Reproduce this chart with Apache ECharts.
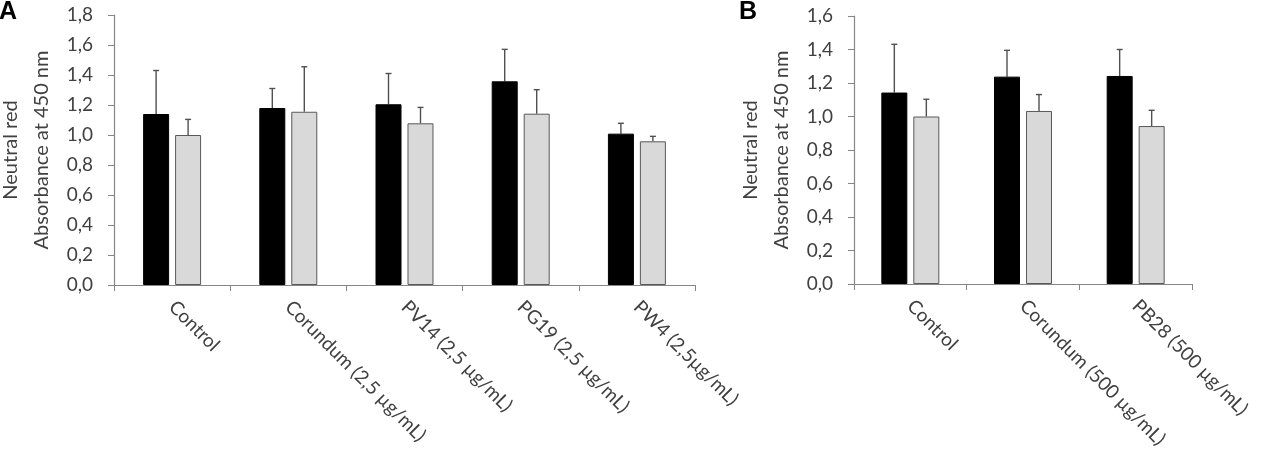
<!DOCTYPE html>
<html>
<head>
<meta charset="utf-8">
<script src="https://cdn.jsdelivr.net/npm/echarts@6/dist/echarts.min.js"></script>
<style>
  html, body { margin: 0; padding: 0; background: #fff; }
  #chart { width: 1277px; height: 449px; }
</style>
</head>
<body>
<div id="chart"></div>
<script>
// panel A
const categoriesA = ['Control', 'Corundum (2,5 µg/mL)', 'PV14 (2,5 µg/mL)', 'PG19 (2,5 µg/mL)', 'PW4 (2,5µg/mL)'];
const blackA = [1.14, 1.18, 1.205, 1.358, 1.009];
const blackErrA = [0.29, 0.13, 0.205, 0.213, 0.069];
const greyA = [1.0, 1.155, 1.078, 1.142, 0.958];
const greyErrA = [0.104, 0.30, 0.106, 0.16, 0.033];

// panel B
const categoriesB = ['Control', 'Corundum (500 µg/mL)', 'PB28 (500 µg/mL)'];
const blackB = [1.143, 1.238, 1.242];
const blackErrB = [0.288, 0.157, 0.158];
const greyB = [1.0, 1.033, 0.943];
const greyErrB = [0.103, 0.098, 0.094];

const yTitle = 'Neutral red\nAbsorbance at 450 nm';
const FONT = 'Lato';
const textColor = '#404040';
const axisColor = '#868686';

const BAR_W = 26;
const HALF_STEP = 16; // half distance between the two bar centres

function fmt(v) {
  return v.toFixed(1).replace('.', ',');
}

function errorSeries(idx, means, errs, side) {
  return {
    type: 'custom',
    xAxisIndex: idx,
    yAxisIndex: idx,
    z: 1,
    silent: true,
    data: means.map((m, i) => [i, m, m + errs[i]]),
    renderItem(params, api) {
      const low = api.coord([api.value(0), api.value(1)]);
      const high = api.coord([api.value(0), api.value(2)]);
      const x = low[0] + side * HALF_STEP;
      const st = { stroke: '#505050', lineWidth: 1.4 };
      return {
        type: 'group',
        children: [
          { type: 'line', shape: { x1: x, y1: low[1], x2: x, y2: high[1] }, style: st },
          { type: 'line', shape: { x1: x - 3, y1: high[1], x2: x + 3, y2: high[1] }, style: st }
        ]
      };
    }
  };
}

function barSeries(idx, values, color, border) {
  return {
    type: 'bar',
    xAxisIndex: idx,
    yAxisIndex: idx,
    barWidth: BAR_W,
    barGap: '23%',
    z: 2,
    data: values,
    itemStyle: { color: color, borderColor: border, borderWidth: 1 }
  };
}

function xAxis(idx, cats) {
  return {
    type: 'category',
    gridIndex: idx,
    data: cats,
    axisLine: { lineStyle: { color: axisColor, width: 1.2 } },
    axisTick: { show: true, length: 6, lineStyle: { color: axisColor } },
    axisLabel: {
      rotate: -45,
      interval: 0,
      margin: 19,
      fontFamily: FONT,
      fontSize: 19,
      color: textColor
    }
  };
}

function yAxis(idx, max) {
  return {
    type: 'value',
    gridIndex: idx,
    min: 0,
    max: max,
    interval: 0.2,
    name: yTitle,
    nameLocation: 'middle',
    nameRotate: 90,
    nameGap: 57,
    nameTextStyle: { fontFamily: FONT, fontSize: 20, color: textColor, lineHeight: 31 },
    splitLine: { show: false },
    axisLine: { show: true, lineStyle: { color: axisColor, width: 1.2 } },
    axisTick: { show: true, length: 6, lineStyle: { color: axisColor } },
    axisLabel: {
      formatter: fmt,
      margin: 21,
      fontFamily: FONT,
      fontSize: 19,
      color: textColor
    }
  };
}

const chart = echarts.init(document.getElementById('chart'));
chart.setOption({
  animation: false,
  backgroundColor: '#fff',
  title: [
    { text: 'A', left: -1, top: 0, padding: 0, textStyle: { fontFamily: 'Liberation Sans', fontSize: 25, fontWeight: 'bold', color: '#000' } },
    { text: 'B', left: 739, top: 0, padding: 0, textStyle: { fontFamily: 'Liberation Sans', fontSize: 25, fontWeight: 'bold', color: '#000' } }
  ],
  grid: [
    { left: 114, right: 582, top: 15, bottom: 164, containLabel: false, outerBoundsMode: 'none' },
    { left: 854, right: 85, top: 16, bottom: 165, containLabel: false, outerBoundsMode: 'none' }
  ],
  xAxis: [xAxis(0, categoriesA), xAxis(1, categoriesB)],
  yAxis: [yAxis(0, 1.8), yAxis(1, 1.6)],
  series: [
    barSeries(0, blackA, '#000000', '#000000'),
    barSeries(0, greyA, '#d9d9d9', '#595959'),
    errorSeries(0, blackA, blackErrA, -1),
    errorSeries(0, greyA, greyErrA, 1),
    barSeries(1, blackB, '#000000', '#000000'),
    barSeries(1, greyB, '#d9d9d9', '#595959'),
    errorSeries(1, blackB, blackErrB, -1),
    errorSeries(1, greyB, greyErrB, 1)
  ]
});
</script>
</body>
</html>
